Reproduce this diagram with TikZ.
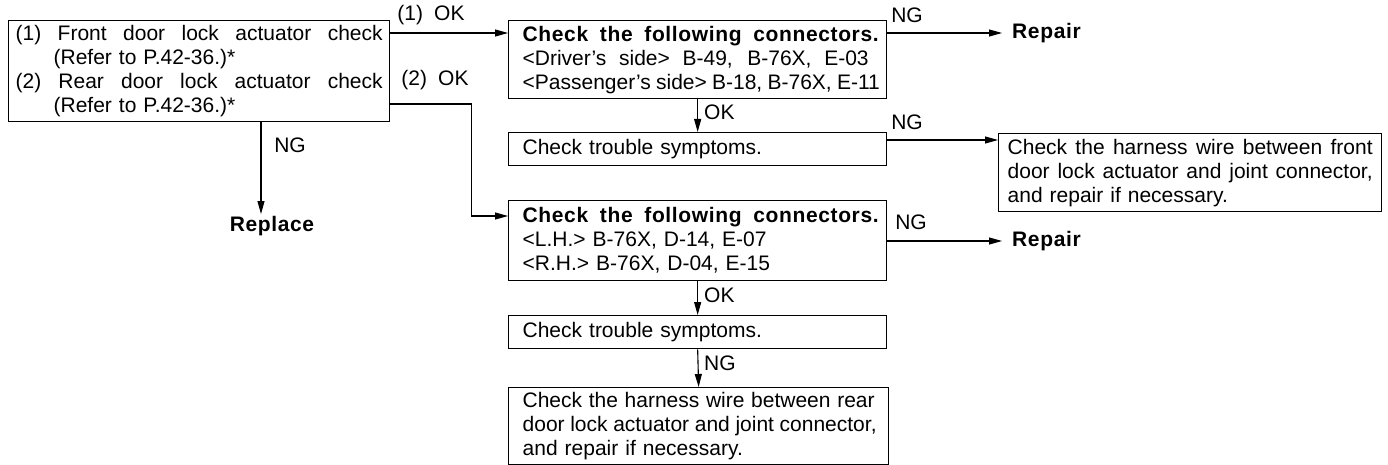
\documentclass[tikz,border=0pt]{standalone}
\usepackage{fontspec}
\setmainfont{Liberation Sans}[WordSpace={1.9},BoldFeatures={LetterSpace=3}]
\usetikzlibrary{arrows.meta}
\newcommand\fsz{\fontsize{21}{24}\selectfont}
\newcommand\jl[2]{\leavevmode{\spaceskip=0.25em plus 1fil\relax\hbox to #1{#2}}}
\begin{document}
\begin{tikzpicture}[x=1pt,y=-1pt,
  box/.style={draw, line width=1.3pt, anchor=north west, inner ysep=0pt, align=left, font=\fsz},
  lab/.style={inner sep=0pt, font=\fsz},
  arr/.style={line width=1.1pt, -{Triangle[length=13pt,width=7pt]}}]
\useasboundingbox (0,0) rectangle (1388,465);
% boxes
\node[box, inner xsep=7pt, text width=367pt, minimum height=101pt] (A) at (8,20)
  {\jl{367pt}{(1) Front door lock actuator check}\\
   \hspace*{38pt}(Refer to P.42-36.)*\\
   \jl{367pt}{(2) Rear door lock actuator check}\\
   \hspace*{38pt}(Refer to P.42-36.)*};
\node[box, inner xsep=14pt, text width=350pt, minimum height=78pt] (B) at (508,20)
  {\jl{356pt}{\bfseries Check the following connectors.}\\
   \jl{346pt}{<Driver’s side> B-49, B-76X, E-03}\\
   \jl{356pt}{<Passenger’s side> B-18, B-76X, E-11}};
\node[box, inner xsep=14pt, text width=350pt, minimum height=33pt] (D1) at (508,132)
  {Check trouble symptoms.};
\node[box, inner xsep=9pt, text width=365pt, minimum height=78pt] (E) at (998,133)
  {\jl{365pt}{Check the harness wire between front}\\
   \jl{365pt}{door lock actuator and joint connector,}\\
   and repair if necessary.};
\node[box, inner xsep=14pt, text width=350pt, minimum height=80pt] (C) at (508,200)
  {\jl{356pt}{\bfseries Check the following connectors.}\\
   <L.H.> B-76X, D-14, E-07\\
   <R.H.> B-76X, D-04, E-15};
\node[box, inner xsep=14pt, text width=350pt, minimum height=33pt] (D2) at (508,315)
  {Check trouble symptoms.};
\node[box, inner xsep=14pt, text width=352pt, minimum height=77pt] (F) at (508,387)
  {\jl{352pt}{Check the harness wire between rear}\\
   \jl{354pt}{door lock actuator and joint connector,}\\
   and repair if necessary.};
% terminal texts
\node[lab, font=\fsz\bfseries, inner sep=2pt] (Rep) at (272,226) {Replace};
\node[lab, font=\fsz\bfseries, anchor=west, inner xsep=10pt] (R1) at (1002,33) {Repair};
\node[lab, font=\fsz\bfseries, anchor=west, inner xsep=10pt] (R2) at (1002,241) {Repair};
% labels
\node[lab] (l1ok) at (431,15) {(1) OK};
\node[lab] (l2ok) at (435,80) {(2) OK};
\node[lab] (lng0) at (290,145) {NG};
\node[lab] (lng1) at (907,15) {NG};
\node[lab] (lng2) at (907,122) {NG};
\node[lab] (lng3) at (911,222) {NG};
\node[lab, anchor=west] (lok1) at (704,112) {OK};
\node[lab, anchor=west] (lok2) at (704,295) {OK};
\node[lab, anchor=west] (lng4) at (704,363) {NG};
% connectors
\draw[arr] ([yshift=-13pt]A.north east) -- ([yshift=-13pt]B.north west);
\draw[arr] ([yshift=-84pt]A.north east) -- ++(81,0) |- ([yshift=-16pt]C.north west);
\coordinate (ang) at ([xshift=253pt]A.south west);
\draw[arr] (ang) -- (ang |- Rep.north);
\draw[arr] ([yshift=-13pt]B.north east) -- (R1.west);
\draw[arr] (B.south) -- (D1.north);
\coordinate (d1o) at ([yshift=-8pt]D1.north east);
\draw[arr] (d1o) -- (d1o -| E.west);
\coordinate (co) at ([yshift=-41pt]C.north east);
\draw[arr] (co) -- (R2.west);
\draw[arr] (C.south) -- (D2.north);
\draw[arr] (D2.south) -- (F.north);
\end{tikzpicture}
\end{document}
